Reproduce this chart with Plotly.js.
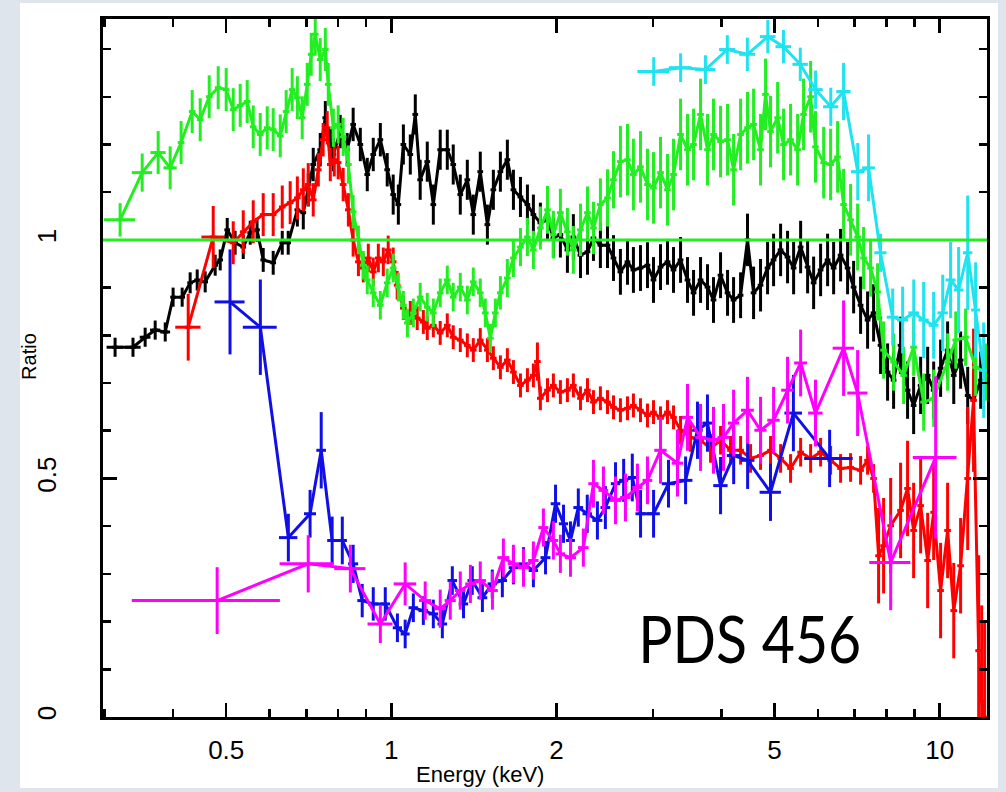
<!DOCTYPE html>
<html><head><meta charset="utf-8">
<script src="https://cdn.plot.ly/plotly-3.0.1.min.js"></script>
<style>
html,body{margin:0;padding:0;width:1006px;height:792px;overflow:hidden;background:#dee5ed;}
#sheet{position:absolute;left:20px;top:3px;width:978px;height:785px;background:#fff;}
#chart{position:absolute;left:0;top:0;width:1006px;height:792px;}
</style></head><body><div id="sheet"></div><div id="chart"></div>
<script>
// ---- axis ticks ----
const xTickVals = [0.5, 1, 2, 5, 10];
const xTickText = ['0.5', '1', '2', '5', '10'];
const xMinorVals = [0.3, 0.4, 0.6, 0.7, 0.8, 0.9, 3, 4, 6, 7, 8, 9];
const yTickVals = [0, 0.5, 1];
const yTickText = ['0', '0.5', '1'];
const yMinorVals = [0.1, 0.2, 0.3, 0.4, 0.6, 0.7, 0.8, 0.9, 1.1, 1.2, 1.3, 1.4];

// ---- black spectrum ----
const blackE = [0.3135,0.338,0.3557,0.371,0.387,0.400,0.4155,0.4297,0.4426,0.4577,
0.4773,0.4875,0.5021,0.519,0.537,0.553,0.569,0.584,0.609,0.6326,
0.6486,0.674,0.691,0.7055,0.7205,0.742,0.758,0.774,0.784,0.807,
0.831,0.852,0.878,0.904,0.927,0.955,0.983,1.008,1.030,1.052,
1.083,1.106,1.129,1.163,1.193,1.228,1.265,1.297,1.336,1.376,
1.411,1.453,1.497,1.535,1.581,1.628,1.670,1.720,1.771,1.816,
1.870,1.927,1.975,2.034,2.095,2.148,2.213,2.279,2.337,2.406,
2.479,2.542,2.617,2.696,2.764,2.847,2.932,3.007,3.097,3.189,
3.271,3.369,3.469,3.558,3.664,3.773,3.869,3.985,4.104,4.209,
4.335,4.463,4.578,4.714,4.855,4.979,5.128,5.280,5.416,5.578,
5.744,5.891,6.066,6.247,6.407,6.597,6.794,6.968,7.175,7.389,
7.578,7.803,8.036,8.242,8.487,8.740,8.965,9.233,9.509,9.752,
10.04,10.34,10.61,10.92,11.25,11.53,11.88];
const blackRatio = [0.775,0.775,0.796,0.811,0.807,0.880,0.880,0.910,0.916,0.912,
0.947,0.958,1.021,0.994,0.985,1.015,1.021,0.958,0.952,0.994,
0.994,1.063,1.057,1.105,1.158,1.189,1.256,1.200,1.179,1.227,
1.189,1.242,1.200,1.137,1.179,1.210,1.147,1.095,1.074,1.200,
1.179,1.263,1.126,1.164,1.074,1.189,1.189,1.158,1.095,1.126,
1.053,1.143,1.032,1.105,1.143,1.168,1.105,1.090,1.074,1.053,
1.036,1.042,1.004,1.011,0.979,1.006,0.968,0.975,1.004,0.989,
0.989,0.962,0.933,0.954,0.937,0.941,0.947,0.916,0.943,0.954,
0.937,0.958,0.916,0.889,0.916,0.901,0.874,0.926,0.889,0.874,
0.884,1.000,0.889,0.905,0.941,0.958,0.979,0.964,0.941,0.985,
0.943,0.910,0.937,0.958,0.941,0.968,0.941,0.901,0.863,0.832,
0.847,0.779,0.723,0.706,0.779,0.685,0.653,0.695,0.716,0.685,
0.731,0.769,0.716,0.748,0.674,0.664,0.706];
const blackErr = [0.02,0.02,0.02,0.02,0.02,0.02,0.02,0.022,0.022,0.022,
0.022,0.022,0.025,0.025,0.025,0.025,0.025,0.025,0.025,0.025,
0.025,0.035,0.035,0.035,0.035,0.035,0.035,0.035,0.035,0.035,
0.035,0.035,0.035,0.035,0.035,0.035,0.035,0.042,0.042,0.042,
0.042,0.042,0.042,0.042,0.042,0.042,0.042,0.042,0.042,0.042,
0.042,0.042,0.042,0.042,0.042,0.042,0.042,0.042,0.042,0.042,
0.042,0.042,0.042,0.048,0.048,0.048,0.048,0.048,0.048,0.048,
0.048,0.048,0.048,0.048,0.048,0.048,0.048,0.048,0.048,0.048,
0.048,0.048,0.048,0.048,0.048,0.048,0.048,0.048,0.048,0.048,
0.048,0.055,0.055,0.055,0.055,0.055,0.055,0.055,0.055,0.055,
0.055,0.055,0.055,0.055,0.055,0.055,0.055,0.055,0.06,0.06,
0.06,0.06,0.06,0.06,0.06,0.06,0.06,0.06,0.06,0.06,
0.06,0.06,0.06,0.06,0.06,0.06,0.06];
const blackLowXErr = [0.011,0.011,0.008,0.008,0.008];

// ---- red spectrum ----
const redE = [0.4262,0.4734,0.5149,0.537,0.560,0.584,0.609,0.6326,0.654,0.674,
0.691,0.7055,0.7205,0.736,0.751,0.764,0.774,0.787,0.800,0.817,
0.835,0.852,0.871,0.889,0.908,0.927,0.947,0.967,0.987,1.008,
1.025,1.052,1.083,1.115,1.144,1.163,1.193,1.228,1.265,1.297,
1.336,1.376,1.411,1.453,1.497,1.535,1.581,1.628,1.670,1.720,
1.771,1.816,1.847,1.870,1.927,1.975,2.034,2.095,2.148,2.213,
2.279,2.337,2.406,2.479,2.542,2.617,2.696,2.764,2.847,2.932,
3.007,3.097,3.189,3.271,3.369,3.512,3.664,3.821,3.985,4.156,
4.335,4.520,4.714,4.916,5.128,5.347,5.578,5.817,6.066,6.326,
6.597,6.880,7.175,7.389,7.578,7.738,7.903,8.141,8.487,8.740,
8.965,9.233,9.509,9.752,10.04,10.34,10.61,10.92,11.25,11.53,
11.78,11.93,12.08];
const redRatio = [0.817,1.006,0.994,1.017,1.038,1.053,1.053,1.069,1.078,1.088,
1.105,1.116,1.084,1.147,1.210,1.235,1.158,1.168,1.162,1.116,
1.063,1.000,0.954,0.941,0.962,0.933,0.962,0.954,0.979,0.954,
0.905,0.857,0.847,0.836,0.828,0.815,0.821,0.805,0.821,0.796,
0.790,0.779,0.769,0.790,0.769,0.752,0.733,0.748,0.723,0.695,
0.706,0.716,0.745,0.668,0.685,0.695,0.681,0.685,0.695,0.668,
0.685,0.660,0.668,0.660,0.649,0.643,0.647,0.653,0.643,0.632,
0.639,0.626,0.639,0.628,0.601,0.586,0.580,0.563,0.580,0.559,
0.559,0.542,0.548,0.559,0.542,0.521,0.555,0.542,0.555,0.538,
0.521,0.523,0.517,0.538,0.500,0.338,0.359,0.401,0.433,0.479,
0.391,0.443,0.328,0.429,0.265,0.391,0.223,0.317,0.500,0.664,
0.139,0.034,0.0];
const redErr = [0.07,0.065,0.045,0.045,0.045,0.045,0.045,0.045,0.045,0.045,
0.045,0.045,0.035,0.035,0.035,0.035,0.035,0.035,0.035,0.035,
0.035,0.035,0.03,0.03,0.03,0.03,0.03,0.03,0.03,0.03,
0.03,0.025,0.025,0.025,0.025,0.025,0.025,0.025,0.025,0.025,
0.025,0.025,0.025,0.025,0.025,0.025,0.025,0.025,0.025,0.025,
0.025,0.025,0.04,0.025,0.025,0.025,0.025,0.025,0.025,0.025,
0.025,0.025,0.025,0.025,0.025,0.025,0.025,0.025,0.025,0.025,
0.025,0.025,0.025,0.025,0.03,0.03,0.03,0.03,0.03,0.03,
0.03,0.03,0.03,0.03,0.03,0.03,0.03,0.03,0.03,0.03,
0.03,0.03,0.03,0.03,0.03,0.1,0.1,0.1,0.1,0.1,
0.1,0.1,0.1,0.1,0.1,0.1,0.1,0.1,0.15,0.15,
0.2,0.2,0.2];
const redLowXErr = [0.0226,0.023];

// ---- green spectrum ----
const greenE = [0.3202,0.3513,0.3757,0.3951,0.4137,0.4334,0.4482,0.4655,0.4834,0.4999,
0.5149,0.5302,0.5460,0.560,0.5767,0.5939,0.609,0.6273,0.6431,0.6595,
0.674,0.6879,0.7026,0.7145,0.7266,0.742,0.758,0.7674,0.784,0.800,
0.817,0.835,0.852,0.871,0.889,0.904,0.927,0.955,0.983,1.008,
1.030,1.052,1.070,1.097,1.129,1.163,1.193,1.228,1.265,1.297,
1.336,1.376,1.411,1.453,1.484,1.516,1.548,1.581,1.628,1.670,
1.720,1.771,1.816,1.870,1.927,1.975,2.034,2.095,2.148,2.213,
2.279,2.337,2.406,2.479,2.542,2.617,2.696,2.764,2.847,2.932,
3.007,3.097,3.189,3.271,3.369,3.469,3.558,3.664,3.773,3.869,
3.985,4.104,4.209,4.335,4.463,4.578,4.714,4.814,4.916,5.064,
5.192,5.347,5.507,5.647,5.817,5.937,6.144,6.326,6.515,6.681,
6.880,7.086,7.266,7.483,7.706,7.903,8.242,8.596,8.965,9.350,
9.752,10.34,10.70,11.15,11.63,12.13];
const greenRatio = [1.042,1.141,1.183,1.151,1.204,1.269,1.252,1.300,1.319,1.315,
1.273,1.282,1.290,1.237,1.221,1.235,1.231,1.218,1.269,1.315,
1.298,1.256,1.326,1.389,1.431,1.378,1.399,1.326,1.235,1.242,
1.216,1.158,1.059,1.000,0.947,0.916,0.889,0.863,0.910,0.941,
0.901,0.863,0.826,0.847,0.880,0.859,0.847,0.889,0.916,0.880,
0.901,0.874,0.912,0.889,0.847,0.794,0.847,0.889,0.920,0.962,
0.985,1.006,0.979,1.025,1.063,1.011,1.057,1.017,0.979,1.021,
1.057,1.025,1.074,1.088,1.126,1.164,1.168,1.137,1.153,1.116,
1.109,1.141,1.105,1.137,1.221,1.189,1.200,1.263,1.189,1.221,
1.206,1.210,1.147,1.221,1.235,1.242,1.189,1.305,1.227,1.256,
1.200,1.210,1.189,1.263,1.300,1.195,1.162,1.158,1.174,1.074,
1.042,1.006,0.962,0.941,0.891,0.769,0.744,0.716,0.775,0.660,
0.668,0.744,0.790,0.796,0.733,0.723];
const greenErr = [0.035,0.04,0.045,0.045,0.045,0.045,0.045,0.045,0.045,0.045,
0.045,0.045,0.045,0.045,0.045,0.045,0.045,0.045,0.045,0.045,
0.045,0.045,0.045,0.045,0.045,0.045,0.045,0.045,0.04,0.04,
0.04,0.04,0.035,0.03,0.03,0.03,0.03,0.03,0.03,0.03,
0.03,0.03,0.03,0.03,0.03,0.03,0.03,0.03,0.03,0.03,
0.03,0.03,0.03,0.03,0.03,0.03,0.03,0.035,0.04,0.04,
0.04,0.04,0.04,0.045,0.05,0.05,0.05,0.05,0.05,0.055,
0.055,0.055,0.055,0.06,0.06,0.075,0.075,0.075,0.075,0.075,
0.075,0.075,0.075,0.075,0.075,0.075,0.075,0.075,0.075,0.075,
0.075,0.075,0.075,0.075,0.075,0.075,0.075,0.075,0.075,0.075,
0.075,0.075,0.075,0.075,0.075,0.075,0.075,0.075,0.075,0.075,
0.075,0.07,0.065,0.06,0.06,0.06,0.06,0.06,0.06,0.06,
0.06,0.06,0.06,0.06,0.06,0.06];
const greenLowXErr = [0.021,0.015,0.012,0.011];

// ---- blue spectrum ----
const blueE = [0.508,0.577,0.649,0.711,0.745,0.780,0.814,0.852,0.885,0.927,
0.975,1.026,1.060,1.097,1.144,1.193,1.239,1.292,1.354,1.405,
1.466,1.528,1.594,1.670,1.742,1.816,1.911,1.993,2.061,2.122,
2.193,2.277,2.376,2.457,2.564,2.653,2.751,2.848,3.008,3.203,
3.441,3.617,3.772,3.985,4.211,4.465,4.915,5.411,6.30];
const blueRatio = [0.870,0.817,0.376,0.426,0.559,0.370,0.370,0.321,0.244,0.237,
0.237,0.187,0.174,0.229,0.223,0.216,0.195,0.286,0.237,0.286,
0.250,0.279,0.286,0.313,0.321,0.307,0.334,0.447,0.405,0.370,
0.439,0.426,0.412,0.439,0.489,0.496,0.502,0.426,0.426,0.489,
0.496,0.601,0.616,0.485,0.548,0.538,0.471,0.637,0.542];
const blueXErr = [0.032,0.041,0.025,0.018,0.015,0.016,0.016,0.018,0.018,0.02,
0.02,0.02,0.02,0.022,0.023,0.024,0.025,0.026,0.027,0.028,
0.03,0.03,0.032,0.033,0.035,0.036,0.04,0.04,0.04,0.04,
0.045,0.045,0.05,0.05,0.05,0.05,0.05,0.06,0.08,0.09,
0.1,0.08,0.08,0.12,0.12,0.13,0.22,0.2,0.64];
const blueErr = [0.11,0.10,0.05,0.05,0.08,0.05,0.05,0.04,0.035,0.035,
0.035,0.03,0.03,0.03,0.03,0.03,0.03,0.03,0.03,0.03,
0.03,0.03,0.035,0.035,0.035,0.035,0.035,0.04,0.04,0.04,
0.04,0.04,0.04,0.045,0.045,0.045,0.05,0.05,0.05,0.05,
0.05,0.06,0.06,0.06,0.06,0.06,0.06,0.08,0.06];

// ---- magenta spectrum ----
const magentaE = [0.4813,0.7055,0.842,0.955,1.060,1.153,1.228,1.281,1.336,1.394,
1.453,1.529,1.601,1.670,1.742,1.816,1.894,1.975,2.034,2.122,
2.240,2.337,2.437,2.564,2.673,2.811,2.932,3.097,3.326,3.469,
3.664,3.869,4.035,4.209,4.463,4.714,4.979,5.280,5.578,5.937,
6.681,7.086,8.141,9.834];
const magentaRatio = [0.244,0.321,0.311,0.195,0.279,0.244,0.227,0.244,0.265,0.279,
0.286,0.265,0.334,0.321,0.313,0.328,0.397,0.370,0.342,0.334,
0.355,0.489,0.475,0.454,0.460,0.481,0.496,0.559,0.532,0.628,
0.586,0.580,0.586,0.616,0.643,0.601,0.622,0.685,0.742,0.637,
0.773,0.679,0.324,0.544];
const magentaXErr = [0.145,0.08,0.055,0.05,0.05,0.03,0.03,0.03,0.03,0.03,
0.035,0.035,0.04,0.04,0.04,0.04,0.04,0.04,0.04,0.05,
0.05,0.05,0.05,0.06,0.06,0.06,0.06,0.08,0.08,0.08,
0.08,0.1,0.1,0.1,0.12,0.12,0.13,0.14,0.15,0.18,
0.3,0.3,0.7,0.9];
const magentaErr = [0.07,0.06,0.05,0.04,0.045,0.04,0.04,0.04,0.04,0.04,
0.04,0.04,0.04,0.04,0.04,0.04,0.04,0.04,0.04,0.04,
0.04,0.05,0.05,0.05,0.05,0.05,0.05,0.07,0.07,0.07,
0.07,0.07,0.07,0.07,0.07,0.07,0.07,0.07,0.07,0.07,
0.1,0.09,0.1,0.17];

// ---- cyan spectrum ----
const cyanE = [3.01,3.37,3.74,4.10,4.46,4.86,5.19,5.57,5.94,6.33,
6.68,7.09,7.42,7.80,8.21,8.56,8.97,9.35,9.75,10.13,
10.47,10.83,11.25,11.63,12.03];
const cyanRatio = [1.353,1.361,1.357,1.399,1.389,1.426,1.405,1.368,1.315,1.279,
1.311,1.143,1.151,0.973,0.838,0.832,0.847,0.832,0.821,0.847,
0.916,0.895,0.973,0.853,0.727];
const cyanXErr = [0.2,0.16,0.16,0.14,0.15,0.16,0.17,0.18,0.18,0.2,
0.2,0.2,0.2,0.2,0.2,0.2,0.2,0.2,0.2,0.22,
0.22,0.22,0.22,0.22,0.22];
const cyanErr = [0.03,0.03,0.03,0.03,0.035,0.035,0.035,0.035,0.04,0.04,
0.06,0.06,0.07,0.04,0.06,0.07,0.07,0.08,0.07,0.08,
0.08,0.09,0.12,0.1,0.1];

const COLORS = {black:'#000000', red:'#ff0000', green:'#22ee22', blue:'#1010e6', magenta:'#ff00ff', cyan:'#1fe3ef'};
const LW = 3;

function spectrum(x, y, ey, color, ex) {
  const t = {type:'scatter', mode:'lines', x:x, y:y, hoverinfo:'skip', showlegend:false,
    line:{color:color, width:LW},
    error_y:{type:'data', array:ey, visible:true, color:color, thickness:LW, width:0}};
  if (Array.isArray(ex)) t.error_x = {type:'data', array:ex, visible:true, color:color, thickness:LW, width:0};
  else t.error_x = {type:'percent', value:ex, visible:true, color:color, thickness:LW, width:0};
  return t;
}
function lowBars(x, y, ex, color) {
  return {type:'scatter', mode:'markers', x:x, y:y, hoverinfo:'skip', showlegend:false,
    marker:{size:1, color:'rgba(0,0,0,0)'},
    error_x:{type:'data', array:ex, visible:true, color:color, thickness:LW, width:0}};
}

const data = [
  spectrum(blackE, blackRatio, blackErr, COLORS.black, 1.2),
  lowBars(blackE.slice(0,5), blackRatio.slice(0,5), blackLowXErr, COLORS.black),
  spectrum(redE, redRatio, redErr, COLORS.red, 1.4),
  lowBars(redE.slice(0,2), redRatio.slice(0,2), redLowXErr, COLORS.red),
  spectrum(greenE, greenRatio, greenErr, COLORS.green, 1.4),
  lowBars(greenE.slice(0,4), greenRatio.slice(0,4), greenLowXErr, COLORS.green),
  spectrum(blueE, blueRatio, blueErr, COLORS.blue, blueXErr),
  spectrum(magentaE, magentaRatio, magentaErr, COLORS.magenta, magentaXErr),
  spectrum(cyanE, cyanRatio, cyanErr, COLORS.cyan, cyanXErr)
];

const FONT = '"Liberation Sans", Arial, Helvetica, sans-serif';
const layout = {
  width:1006, height:792,
  margin:{l:103, r:19, t:19, b:75, pad:0},
  paper_bgcolor:'rgba(0,0,0,0)', plot_bgcolor:'#ffffff',
  showlegend:false,
  font:{family:FONT, color:'#000'},
  xaxis:{type:'log', range:[Math.log10(0.298), Math.log10(12.2)], autorange:false,
    tickmode:'array', tickvals:xTickVals, ticktext:xTickText,
    ticks:'inside', ticklen:14, tickwidth:2.5, tickcolor:'#000',
    showline:true, linewidth:3, linecolor:'#000', mirror:'ticks',
    showgrid:false, zeroline:false, tickfont:{size:26}, ticklabelstandoff:8,
    minor:{tickmode:'array', tickvals:xMinorVals, ticks:'inside', ticklen:8, tickwidth:2.5, tickcolor:'#000', showgrid:false},
    automargin:false},
  yaxis:{range:[0, 1.463], autorange:false,
    tickmode:'array', tickvals:yTickVals, ticktext:yTickText, tickangle:-90,
    ticks:'inside', ticklen:14, tickwidth:2.5, tickcolor:'#000',
    showline:true, linewidth:3, linecolor:'#000', mirror:'ticks',
    showgrid:false, zeroline:false, tickfont:{size:26}, ticklabelstandoff:34,
    minor:{tickmode:'array', tickvals:yMinorVals, ticks:'inside', ticklen:8, tickwidth:2.5, tickcolor:'#000', showgrid:false},
    automargin:false},
  shapes:[{type:'line', xref:'paper', yref:'y', x0:0, x1:1, y0:1, y1:1, layer:'above',
    line:{color:COLORS.green, width:3}}],
  annotations:[
    {xref:'paper', yref:'paper', x:0.4265, y:-0.083, xanchor:'center', yanchor:'middle',
      text:'Energy (keV)', showarrow:false, font:{family:FONT, size:22, color:'#000'}},
    {xref:'paper', yref:'paper', x:-0.084, y:0.517, xanchor:'center', yanchor:'middle', textangle:-90,
      text:'Ratio', showarrow:false, font:{family:FONT, size:20, color:'#000'}},
    {xref:'paper', yref:'paper', x:0.731, y:0.113, xanchor:'center', yanchor:'middle',
      text:'PDS 456', showarrow:false, font:{family:'Lato, "Open Sans", sans-serif', size:65, color:'#000'}}
  ]
};

Plotly.newPlot('chart', data, layout, {staticPlot:true, displayModeBar:false}).then(function(gd){
  gd.querySelectorAll('.annotation-text').forEach(function(el){
    if (el.textContent === 'PDS 456') {
      el.style.transformBox = 'fill-box';
      el.style.transformOrigin = 'center';
      el.style.transform = 'scaleX(0.88)';
    }
  });
});
</script></body></html>
